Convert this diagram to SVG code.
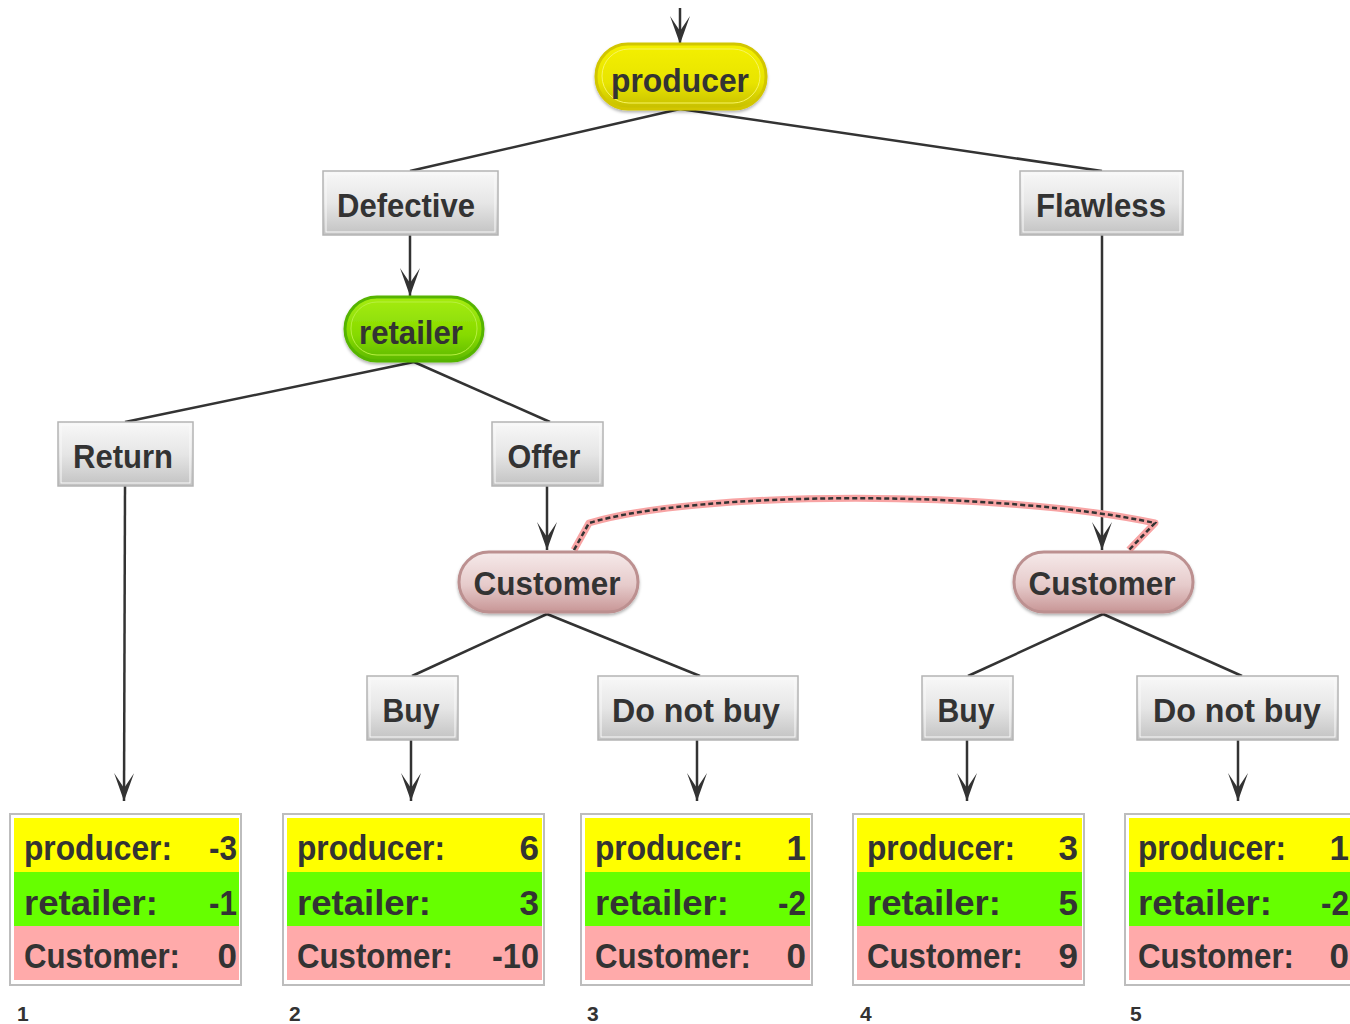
<svg xmlns="http://www.w3.org/2000/svg" width="1350" height="1024" viewBox="0 0 1350 1024">
  <defs>
    <linearGradient id="gBox" x1="0" y1="0" x2="0" y2="1">
      <stop offset="0" stop-color="#f8f8f8"/>
      <stop offset="0.5" stop-color="#e6e6e6"/>
      <stop offset="1" stop-color="#c2c2c2"/>
    </linearGradient>
    <linearGradient id="gProd" x1="0" y1="0" x2="0" y2="1">
      <stop offset="0" stop-color="#f4f000"/>
      <stop offset="0.6" stop-color="#e8e400"/>
      <stop offset="1" stop-color="#c6be00"/>
    </linearGradient>
    <linearGradient id="gRet" x1="0" y1="0" x2="0" y2="1">
      <stop offset="0" stop-color="#a6ec12"/>
      <stop offset="0.6" stop-color="#86da00"/>
      <stop offset="1" stop-color="#5cb800"/>
    </linearGradient>
    <linearGradient id="gCust" x1="0" y1="0" x2="0" y2="1">
      <stop offset="0" stop-color="#f6eaea"/>
      <stop offset="0.55" stop-color="#e6cbcb"/>
      <stop offset="1" stop-color="#c89696"/>
    </linearGradient>
    <filter id="shadow" x="-10%" y="-20%" width="120%" height="150%">
      <feDropShadow dx="0" dy="2" stdDeviation="1.5" flood-color="#000" flood-opacity="0.3"/>
    </filter>
    <marker id="arrow" markerUnits="userSpaceOnUse" markerWidth="30" markerHeight="22" refX="28" refY="10" orient="auto">
      <path d="M28 10 L0 0 L15 10 L0 20 Z" fill="#333"/>
    </marker>
    <style>
      .lbl { font-family: "Liberation Sans", Arial, sans-serif; font-weight: bold; fill: #333; }
      .node { font-size: 34px; text-anchor: middle; }
      .pay { font-size: 35px; }
      .val { font-size: 35px; text-anchor: end; }
      .num { font-size: 21px; }
      .edge { fill: none; stroke: #333; stroke-width: 2.5; }
      .arr { marker-end: url(#arrow); }
      .box { fill: url(#gBox); stroke: #b4b4b4; stroke-width: 1.5; }
      .boxin { fill: none; stroke: #fafafa; stroke-width: 1; }
      .frame { fill: #fff; stroke: #bdbdbd; stroke-width: 2; }
      .ry { fill: #ffff00; }
      .rg { fill: #66ff00; }
      .rp { fill: #ffaaaa; }
    </style>
  </defs>

  <!-- connectors -->
  <g id="connectors">
    <path class="edge arr" d="M680 8 L680 44"/>
    <path class="edge" d="M680 109 L410 171"/>
    <path class="edge" d="M680 109 L1102 171"/>
    <path class="edge arr" d="M410 235 L410 296"/>
    <path class="edge" d="M414 362 L125 422"/>
    <path class="edge" d="M414 362 L550 422"/>
    <path class="edge arr" d="M125 486 L124 801"/>
    <path class="edge arr" d="M547 486 L547 550"/>
    <path class="edge arr" d="M1102 235 L1102 550"/>
    <path class="edge" d="M547 614 L412 676"/>
    <path class="edge" d="M547 614 L700 676"/>
    <path class="edge" d="M1103 614 L968 676"/>
    <path class="edge" d="M1103 614 L1242 676"/>
    <path class="edge arr" d="M411 740 L411 801"/>
    <path class="edge arr" d="M697 740 L697 801"/>
    <path class="edge arr" d="M967 740 L967 801"/>
    <path class="edge arr" d="M1238 740 L1238 801"/>
    <!-- information set link between the two Customer nodes -->
    <path d="M574 550 L589 523 C700 490 1000 490 1155 523 L1129 550" fill="none" stroke="#f8a4a4" stroke-width="7" stroke-linejoin="round"/>
    <path d="M574 550 L589 523 C700 490 1000 490 1155 523 L1129 550" fill="none" stroke="#333" stroke-width="2.5" stroke-dasharray="5 3"/>
  </g>

  <!-- decision nodes -->
  <g id="n-producer">
    <rect x="596" y="44" width="170" height="65" rx="32" fill="url(#gProd)" stroke="#d2c600" stroke-width="3" filter="url(#shadow)"/>
    <rect x="602" y="49" width="158" height="54" rx="27" fill="none" stroke="#f8f460" stroke-width="1"/>
    <text class="lbl node" x="680" y="92" textLength="138" lengthAdjust="spacingAndGlyphs">producer</text>
  </g>
  <g id="n-retailer">
    <rect x="345" y="297" width="138" height="64" rx="32" fill="url(#gRet)" stroke="#56b400" stroke-width="3" filter="url(#shadow)"/>
    <rect x="351" y="302" width="126" height="53" rx="26" fill="none" stroke="#b8f040" stroke-width="1"/>
    <text class="lbl node" x="411" y="344" textLength="104" lengthAdjust="spacingAndGlyphs">retailer</text>
  </g>
  <g id="n-customer1">
    <rect x="459" y="552" width="179" height="60" rx="30" fill="url(#gCust)" stroke="#bc9090" stroke-width="3" filter="url(#shadow)"/>
    <text class="lbl node" x="547" y="595" textLength="147" lengthAdjust="spacingAndGlyphs">Customer</text>
  </g>
  <g id="n-customer2">
    <rect x="1014" y="552" width="179" height="60" rx="30" fill="url(#gCust)" stroke="#bc9090" stroke-width="3" filter="url(#shadow)"/>
    <text class="lbl node" x="1102" y="595" textLength="147" lengthAdjust="spacingAndGlyphs">Customer</text>
  </g>

  <!-- action nodes -->
  <g id="a-defective">
    <rect class="box" x="323" y="171" width="175" height="64"/>
    <rect class="boxin" x="326" y="174" width="169" height="58"/>
    <text class="lbl node" x="406" y="217" textLength="138" lengthAdjust="spacingAndGlyphs">Defective</text>
  </g>
  <g id="a-flawless">
    <rect class="box" x="1020" y="171" width="163" height="64"/>
    <rect class="boxin" x="1023" y="174" width="157" height="58"/>
    <text class="lbl node" x="1101" y="217" textLength="130" lengthAdjust="spacingAndGlyphs">Flawless</text>
  </g>
  <g id="a-return">
    <rect class="box" x="58" y="422" width="135" height="64"/>
    <rect class="boxin" x="61" y="425" width="129" height="58"/>
    <text class="lbl node" x="123" y="468" textLength="100" lengthAdjust="spacingAndGlyphs">Return</text>
  </g>
  <g id="a-offer">
    <rect class="box" x="492" y="422" width="111" height="64"/>
    <rect class="boxin" x="495" y="425" width="105" height="58"/>
    <text class="lbl node" x="544" y="468" textLength="73" lengthAdjust="spacingAndGlyphs">Offer</text>
  </g>
  <g id="a-buy1">
    <rect class="box" x="367" y="676" width="91" height="64"/>
    <rect class="boxin" x="370" y="679" width="85" height="58"/>
    <text class="lbl node" x="411" y="722" textLength="57" lengthAdjust="spacingAndGlyphs">Buy</text>
  </g>
  <g id="a-notbuy1">
    <rect class="box" x="598" y="676" width="200" height="64"/>
    <rect class="boxin" x="601" y="679" width="194" height="58"/>
    <text class="lbl node" x="696" y="722" textLength="168" lengthAdjust="spacingAndGlyphs">Do not buy</text>
  </g>
  <g id="a-buy2">
    <rect class="box" x="922" y="676" width="91" height="64"/>
    <rect class="boxin" x="925" y="679" width="85" height="58"/>
    <text class="lbl node" x="966" y="722" textLength="57" lengthAdjust="spacingAndGlyphs">Buy</text>
  </g>
  <g id="a-notbuy2">
    <rect class="box" x="1137" y="676" width="201" height="64"/>
    <rect class="boxin" x="1140" y="679" width="195" height="58"/>
    <text class="lbl node" x="1237" y="722" textLength="168" lengthAdjust="spacingAndGlyphs">Do not buy</text>
  </g>

  <!-- payoff tables -->
  <g id="p1">
    <rect class="frame" x="10" y="814" width="231" height="171"/>
    <rect class="ry" x="14" y="818" width="225" height="54"/>
    <rect class="rg" x="14" y="872" width="225" height="54"/>
    <rect class="rp" x="14" y="926" width="225" height="54"/>
    <text class="lbl pay" x="24" y="860" textLength="148" lengthAdjust="spacingAndGlyphs">producer:</text>
    <text class="lbl pay" x="24" y="915" textLength="134" lengthAdjust="spacingAndGlyphs">retailer:</text>
    <text class="lbl pay" x="24" y="968" textLength="156" lengthAdjust="spacingAndGlyphs">Customer:</text>
    <text class="lbl val" x="237" y="860" textLength="28" lengthAdjust="spacingAndGlyphs">-3</text>
    <text class="lbl val" x="237" y="915" textLength="28" lengthAdjust="spacingAndGlyphs">-1</text>
    <text class="lbl val" x="237" y="968">0</text>
    <text class="lbl num" x="17" y="1021">1</text>
  </g>
  <g id="p2">
    <rect class="frame" x="283" y="814" width="261" height="171"/>
    <rect class="ry" x="287" y="818" width="255" height="54"/>
    <rect class="rg" x="287" y="872" width="255" height="54"/>
    <rect class="rp" x="287" y="926" width="255" height="54"/>
    <text class="lbl pay" x="297" y="860" textLength="148" lengthAdjust="spacingAndGlyphs">producer:</text>
    <text class="lbl pay" x="297" y="915" textLength="134" lengthAdjust="spacingAndGlyphs">retailer:</text>
    <text class="lbl pay" x="297" y="968" textLength="156" lengthAdjust="spacingAndGlyphs">Customer:</text>
    <text class="lbl val" x="539" y="860">6</text>
    <text class="lbl val" x="539" y="915">3</text>
    <text class="lbl val" x="539" y="968" textLength="47" lengthAdjust="spacingAndGlyphs">-10</text>
    <text class="lbl num" x="289" y="1021">2</text>
  </g>
  <g id="p3">
    <rect class="frame" x="581" y="814" width="231" height="171"/>
    <rect class="ry" x="585" y="818" width="225" height="54"/>
    <rect class="rg" x="585" y="872" width="225" height="54"/>
    <rect class="rp" x="585" y="926" width="225" height="54"/>
    <text class="lbl pay" x="595" y="860" textLength="148" lengthAdjust="spacingAndGlyphs">producer:</text>
    <text class="lbl pay" x="595" y="915" textLength="134" lengthAdjust="spacingAndGlyphs">retailer:</text>
    <text class="lbl pay" x="595" y="968" textLength="156" lengthAdjust="spacingAndGlyphs">Customer:</text>
    <text class="lbl val" x="806" y="860">1</text>
    <text class="lbl val" x="806" y="915" textLength="28" lengthAdjust="spacingAndGlyphs">-2</text>
    <text class="lbl val" x="806" y="968">0</text>
    <text class="lbl num" x="587" y="1021">3</text>
  </g>
  <g id="p4">
    <rect class="frame" x="853" y="814" width="231" height="171"/>
    <rect class="ry" x="857" y="818" width="225" height="54"/>
    <rect class="rg" x="857" y="872" width="225" height="54"/>
    <rect class="rp" x="857" y="926" width="225" height="54"/>
    <text class="lbl pay" x="867" y="860" textLength="148" lengthAdjust="spacingAndGlyphs">producer:</text>
    <text class="lbl pay" x="867" y="915" textLength="134" lengthAdjust="spacingAndGlyphs">retailer:</text>
    <text class="lbl pay" x="867" y="968" textLength="156" lengthAdjust="spacingAndGlyphs">Customer:</text>
    <text class="lbl val" x="1078" y="860">3</text>
    <text class="lbl val" x="1078" y="915">5</text>
    <text class="lbl val" x="1078" y="968">9</text>
    <text class="lbl num" x="860" y="1021">4</text>
  </g>
  <g id="p5">
    <rect class="frame" x="1125" y="814" width="231" height="171"/>
    <rect class="ry" x="1129" y="818" width="225" height="54"/>
    <rect class="rg" x="1129" y="872" width="225" height="54"/>
    <rect class="rp" x="1129" y="926" width="225" height="54"/>
    <text class="lbl pay" x="1138" y="860" textLength="148" lengthAdjust="spacingAndGlyphs">producer:</text>
    <text class="lbl pay" x="1138" y="915" textLength="134" lengthAdjust="spacingAndGlyphs">retailer:</text>
    <text class="lbl pay" x="1138" y="968" textLength="156" lengthAdjust="spacingAndGlyphs">Customer:</text>
    <text class="lbl val" x="1349" y="860">1</text>
    <text class="lbl val" x="1349" y="915" textLength="28" lengthAdjust="spacingAndGlyphs">-2</text>
    <text class="lbl val" x="1349" y="968">0</text>
    <text class="lbl num" x="1130" y="1021">5</text>
  </g>
</svg>
